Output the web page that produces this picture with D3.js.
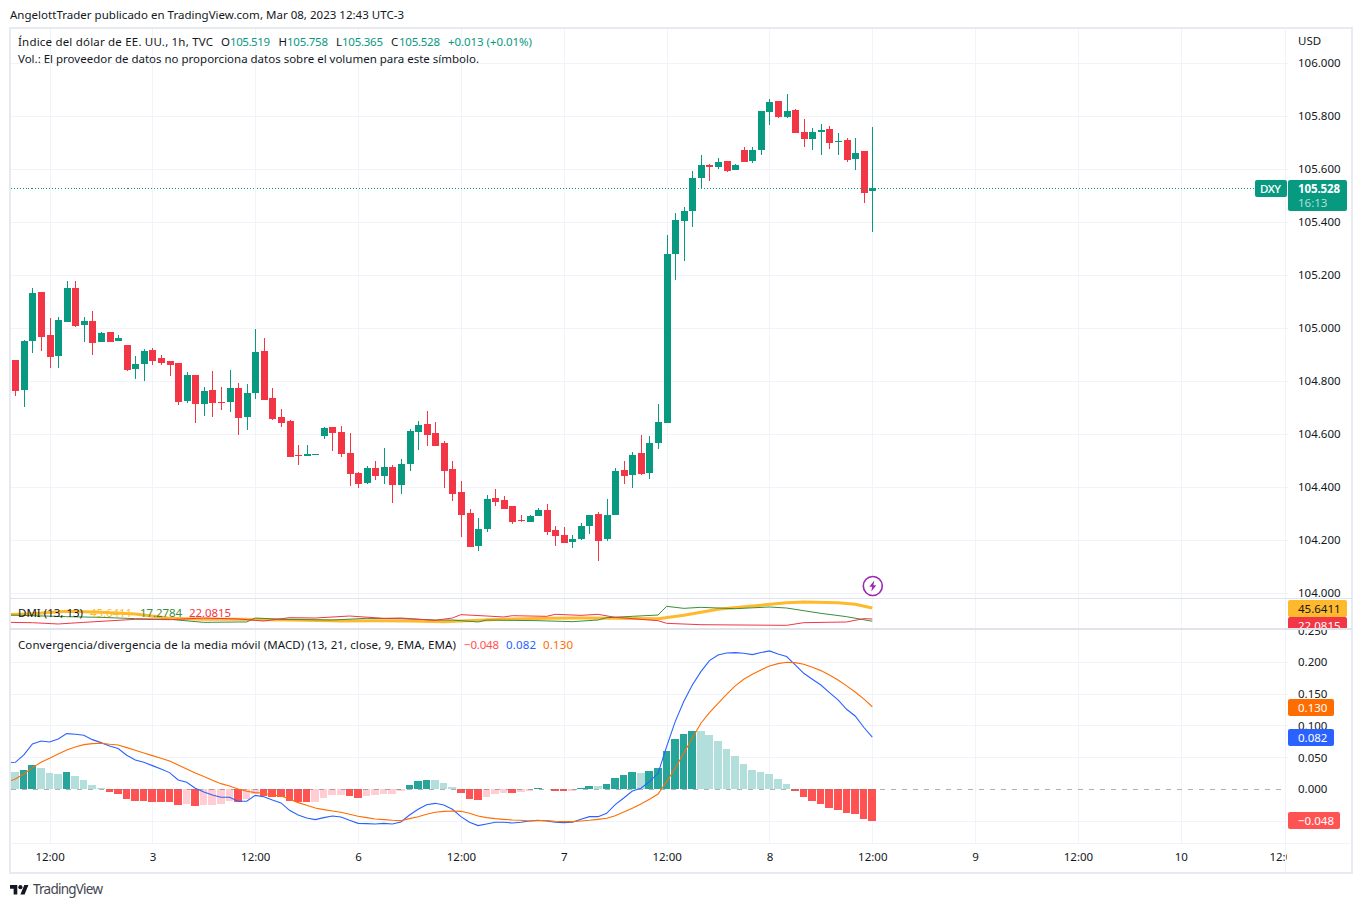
<!DOCTYPE html>
<html><head><meta charset="utf-8">
<style>
html,body{margin:0;padding:0;background:#fff}
svg{display:block}
text{font-family:"Noto Sans","Liberation Sans",sans-serif;font-size:11.5px;fill:#131722}
</style>
<script src="https://cdn.jsdelivr.net/npm/d3@7"></script>
</head><body><svg id="c" width="1362" height="907"></svg>
<script>
// Candle values: first entry is the candle clipped at the left edge (index -1)
const opens=[104.771,104.880,104.767,104.952,105.137,104.975,104.895,105.024,105.152,105.012,105.028,104.948,104.986,104.952,104.937,104.846,104.865,104.918,104.888,104.877,104.869,104.726,104.824,104.714,104.767,104.722,104.722,104.775,104.665,104.756,104.914,104.737,104.665,104.650,104.521,104.518,104.521,104.593,104.627,104.608,104.529,104.453,104.416,104.472,104.442,104.476,104.408,104.487,104.608,104.638,104.604,104.567,104.469,104.382,104.303,104.178,104.242,104.359,104.352,104.329,104.276,104.269,104.291,104.314,104.238,104.220,104.193,104.204,104.253,104.299,104.204,104.295,104.465,104.446,104.529,104.454,104.567,104.643,105.280,105.405,105.442,105.567,105.616,105.608,105.631,105.597,105.673,105.631,105.673,105.816,105.857,105.797,105.824,105.740,105.714,105.740,105.752,105.703,105.710,105.639,105.669,105.519];
const highs=[104.878,104.880,104.956,105.152,105.137,105.039,105.043,105.178,105.178,105.043,105.065,104.986,104.986,104.975,104.937,104.895,104.922,104.926,104.899,104.877,104.869,104.835,104.824,104.778,104.839,104.778,104.843,104.794,104.790,104.997,104.963,104.775,104.695,104.654,104.559,104.559,104.525,104.627,104.627,104.631,104.604,104.457,104.480,104.499,104.548,104.484,104.506,104.620,104.650,104.687,104.646,104.574,104.499,104.423,104.318,104.284,104.370,104.393,104.367,104.329,104.295,104.295,104.321,104.337,104.253,104.250,104.220,104.265,104.295,104.306,104.355,104.472,104.499,104.533,104.597,104.594,104.714,105.352,105.435,105.457,105.593,105.654,105.620,105.642,105.631,105.620,105.684,105.684,105.820,105.865,105.857,105.884,105.827,105.790,105.756,105.771,105.763,105.737,105.718,105.718,105.669,105.758];
const lows=[104.771,104.744,104.703,104.907,104.914,104.850,104.850,105.024,105.005,104.948,104.899,104.948,104.948,104.952,104.839,104.809,104.801,104.861,104.861,104.820,104.711,104.718,104.643,104.669,104.665,104.692,104.684,104.597,104.616,104.733,104.729,104.654,104.627,104.514,104.484,104.518,104.521,104.582,104.537,104.514,104.404,104.397,104.412,104.427,104.412,104.340,104.374,104.461,104.540,104.555,104.555,104.397,104.348,104.212,104.174,104.159,104.231,104.329,104.318,104.261,104.269,104.269,104.291,104.220,104.178,104.189,104.170,104.201,104.223,104.121,104.197,104.295,104.412,104.397,104.446,104.431,104.544,104.643,105.182,105.254,105.382,105.529,105.556,105.601,105.590,105.597,105.627,105.623,105.654,105.767,105.793,105.793,105.737,105.684,105.673,105.654,105.676,105.654,105.627,105.597,105.473,105.365];
const closes=[104.878,104.763,104.952,105.133,104.967,104.892,105.031,105.152,105.009,105.028,104.944,104.982,104.948,104.963,104.843,104.865,104.914,104.877,104.869,104.861,104.722,104.824,104.714,104.763,104.718,104.718,104.775,104.661,104.756,104.911,104.729,104.658,104.643,104.514,104.518,104.525,104.525,104.623,104.604,104.525,104.450,104.412,104.472,104.442,104.476,104.408,104.487,104.612,104.635,104.597,104.555,104.461,104.374,104.295,104.174,104.242,104.355,104.344,104.318,104.269,104.272,104.291,104.314,104.231,104.216,104.189,104.204,104.253,104.295,104.197,104.295,104.461,104.443,104.522,104.450,104.567,104.646,105.280,105.408,105.442,105.567,105.616,105.608,105.627,105.593,105.616,105.627,105.673,105.820,105.854,105.797,105.820,105.737,105.714,105.740,105.748,105.699,105.707,105.635,105.661,105.510,105.528];
// MACD pane
const histogram=[.0257,.0273,.0305,.0383,.0336,.0257,.0242,.0273,.021,.0147,.0068,.0021,-.0037,-.0074,-.0152,-.0184,-.0184,-.02,-.02,-.02,-.0247,-.0231,-.0263,-.0247,-.0247,-.0231,-.0184,-.02,-.0152,-.0068,-.0105,-.0121,-.0121,-.0184,-.02,-.02,-.02,-.0137,-.0089,-.0089,-.0105,-.0137,-.0105,-.0089,-.0074,-.0074,-.0026,.0068,.0131,.0147,.0147,.01,.0037,-.0058,-.0152,-.0168,-.0121,-.0074,-.0058,-.0058,-.0042,-.0026,.0021,.0005,-.0026,-.0026,-.0026,.0021,.0053,.0053,.0084,.0179,.0226,.0273,.0257,.0289,.0336,.0604,.0793,.0871,.0919,.0919,.0856,.0761,.0635,.0525,.0399,.0305,.0273,.0242,.0163,.0084,-.0026,-.0121,-.0184,-.0231,-.0294,-.0326,-.0373,-.0389,-.0467,-.0499];
const histStrong=[0,0,1,1,0,0,0,1,0,0,0,0,1,1,1,1,1,1,1,1,1,0,1,0,0,0,0,1,0,0,1,1,1,1,1,1,0,0,0,0,1,1,0,0,0,0,0,1,1,1,0,0,0,1,1,1,0,0,0,1,0,0,1,0,1,1,0,1,1,0,1,1,1,1,0,1,1,1,1,1,1,0,0,0,0,0,0,0,0,0,0,0,1,1,1,1,1,1,1,1,1,1];
const macdLine=[.042,.0425,.0541,.0714,.0761,.0746,.0793,.0877,.0866,.0851,.0782,.0735,.0683,.0641,.0536,.0462,.0425,.0373,.032,.0263,.0147,.011,.0016,-.0042,-.0089,-.0126,-.0126,-.0189,-.0189,-.0095,-.0116,-.0168,-.0215,-.0331,-.0404,-.0452,-.0478,-.0446,-.042,-.0436,-.0488,-.0536,-.0541,-.0546,-.0536,-.0546,-.0515,-.0404,-.0315,-.0242,-.0221,-.0247,-.0315,-.0431,-.052,-.0572,-.0546,-.052,-.052,-.053,-.052,-.0499,-.0488,-.0499,-.052,-.0525,-.052,-.0473,-.0431,-.0431,-.0378,-.0242,-.0137,-.0026,.0016,.0121,.0252,.0672,.1066,.1381,.1643,.1853,.2027,.2116,.2147,.2153,.2142,.2121,.2153,.2179,.2132,.209,.1958,.1827,.1733,.1643,.1523,.1407,.126,.1155,.0977,.082];
const signalLine=[.011,.0163,.0242,.0341,.0425,.0488,.0557,.062,.0667,.0704,.0719,.0725,.0709,.0698,.0656,.0614,.0572,.053,.0488,.0446,.0383,.032,.0257,.02,.0142,.0089,.0053,.0005,-.0032,-.0053,-.0063,-.0089,-.0105,-.0152,-.021,-.0252,-.0294,-.032,-.0341,-.0362,-.0394,-.0425,-.0446,-.0467,-.0478,-.0488,-.0494,-.0462,-.0431,-.0394,-.0362,-.0347,-.0341,-.0347,-.0378,-.042,-.0446,-.0462,-.0473,-.0483,-.0488,-.0499,-.0494,-.0494,-.0504,-.0509,-.0509,-.0499,-.0488,-.0473,-.0457,-.0415,-.0357,-.0299,-.0231,-.0158,-.0074,.0121,.0331,.0567,.0803,.104,.1208,.1355,.1496,.1628,.1733,.1811,.188,.1943,.1979,.2,.1995,.1969,.1922,.1869,.1801,.1722,.1628,.1533,.1423,.13];
// DMI pane: [candle index, value] vertices
const adxIdx=[-1,2,6,10,14,18,22,26,30,34,38,42,46,50,54,58,62,66,70,75,78,82,86,90,92,96,98,100];
const adxVal=[31.4,33.5,38.5,36.4,32.8,23.5,21.4,21.4,20.7,19.2,17.8,18.5,17.8,16.4,19.2,22.1,23.5,24.2,23.5,22.8,29.9,42.8,49.9,57,58.5,57,53.5,45.6411];
const plusIdx=[-1,2,6,10,14,18,22,26,27,28,31,37,41,45,49,51,54,55,61,65,68,69,72,75,76,78,80,84,88,90,94,97,100];
const plusVal=[30.7,29.2,27.1,25.6,22.8,21.4,14.9,15.7,15.7,24.2,21.4,19.9,23.5,22.8,19.9,19.9,15.7,19.9,18.5,16.4,19.9,24.9,27.8,30.6,49.2,44.9,47.1,44.2,47.8,45.6,34.2,27.1,17.2784];
const minusIdx=[-1,2,5,8,14,18,22,26,29,32,35,39,43,45,49,51,52,55,57,58,62,63,66,68,70,75,76,80,90,92,97,99,100];
const minusVal=[14.9,14.2,11.4,14.9,21.4,20.7,24.2,22.1,17.8,24.9,24.2,28.5,23.5,24.2,19.2,24.2,31.4,28.5,26.4,29.2,27.8,32.1,29.9,32.1,25.6,18.5,12.8,9.9,8.5,14.2,15.7,22.8,22.0815];
// Axes
const priceTicks=[106,105.8,105.6,105.4,105.2,105,104.8,104.6,104.4,104.2,104];
const macdTicks=[.25,.2,.15,.1,.05,0];
const macdGrid=[.2,.15,.1,.05,-.05];
const timeIdx=[4,16,28,40,52,64,76,88,100,112,124,136,148];
const timeLabels=["12:00","3","12:00","6","12:00","7","12:00","8","12:00","9","12:00","10","12:00"];
const lastPrice=105.528;

const svg=d3.select("#c");
const x=d3.scaleLinear().domain([0,148]).range([15.3,15.3+148*8.57]);
const yP=d3.scaleLinear().domain([104,106]).range([593.3,63.3]);
const yD=d3.scaleLinear().domain([22.0815,45.6411]).range([619,608]);
const yM=d3.scaleLinear().domain([0,.2]).range([789.3,662.3]);
const L=10.5,R=1285,T=28,PB=598,DB=629,B=843,XB=872;

const defs=svg.append("defs");
function clip(id,x0,y0,x1,y1){defs.append("clipPath").attr("id",id).append("rect").attr("x",x0).attr("y",y0).attr("width",x1-x0).attr("height",y1-y0);}
clip("cPrice",L,T,R,PB);clip("cDmi",L,PB+1,R,DB-1);clip("cMacd",L,DB+1,R,B);
clip("aPrice",R,T,1352,PB-1);clip("aDmi",R,PB,1352,DB-1);clip("aMacd",R,DB+1,1352,B);clip("aTime",L,B,1287,XB);

const GRID="#f0f3fa";
// Gridlines
const g=svg.append("g").attr("shape-rendering","crispEdges").attr("stroke",GRID).attr("stroke-width",1);
g.selectAll("line.v").data(timeIdx.filter(d=>x(d)<R-2)).join("line").attr("x1",d=>Math.round(x(d))+.5).attr("x2",d=>Math.round(x(d))+.5).attr("y1",T).attr("y2",B);
g.selectAll("line.p").data(priceTicks).join("line").attr("x1",L).attr("x2",1288).attr("y1",d=>Math.floor(yP(d))+.5).attr("y2",d=>Math.floor(yP(d))+.5);
g.selectAll("line.m").data(macdGrid).join("line").attr("x1",L).attr("x2",1288).attr("y1",d=>Math.floor(yM(d))+.5).attr("y2",d=>Math.floor(yM(d))+.5);

// Candles
const candles=opens.map((o,k)=>({i:k-1,o,h:highs[k],l:lows[k],c:closes[k]}));
const up="#089981",dn="#f23645";
const cg=svg.append("g").attr("clip-path","url(#cPrice)").attr("shape-rendering","crispEdges");
cg.selectAll("rect.w").data(candles).join("rect").attr("x",d=>Math.round(x(d.i))).attr("width",1)
  .attr("y",d=>Math.round(yP(d.h))).attr("height",d=>Math.max(1,Math.round(yP(d.l))-Math.round(yP(d.h))))
  .attr("fill",d=>d.c>=d.o?up:dn);
cg.selectAll("rect.b").data(candles).join("rect").attr("x",d=>Math.round(x(d.i))-3).attr("width",7)
  .attr("y",d=>Math.round(yP(Math.max(d.o,d.c)))).attr("height",d=>Math.max(1,Math.round(yP(Math.min(d.o,d.c)))-Math.round(yP(Math.max(d.o,d.c)))))
  .attr("fill",d=>d.c>=d.o?up:dn);
// Last price dotted line
svg.append("line").attr("x1",L).attr("x2",1255).attr("y1",Math.floor(yP(lastPrice))+.5).attr("y2",Math.floor(yP(lastPrice))+.5)
  .attr("stroke",up).attr("stroke-dasharray","1 2").attr("shape-rendering","crispEdges");

// Event icon
const ev=svg.append("g").attr("transform",`translate(${x(100)+.5},586)`);
ev.append("circle").attr("r",9.5).attr("fill","#fff").attr("stroke","#9c27b0").attr("stroke-width",1.6);
ev.append("path").attr("d","M1.5,-5.5 L-3.5,0.8 L-0.6,0.8 L-1.5,5.5 L3.5,-0.8 L0.6,-0.8 Z").attr("fill","#9c27b0");

// DMI
const dg=svg.append("g").attr("clip-path","url(#cDmi)").attr("fill","none");
function dmi(idx,val,col,w){dg.append("path").attr("d",d3.line().x(d=>x(d[0])).y(d=>yD(d[1]))(idx.map((d,k)=>[d,val[k]]))).attr("stroke",col).attr("stroke-width",w).attr("stroke-linejoin","round");}
dmi(adxIdx,adxVal,"#ffb92c",3);
dmi(plusIdx,plusVal,"#388e3c",1);
dmi(minusIdx,minusVal,"#f23645",1);

// MACD
const mg=svg.append("g").attr("clip-path","url(#cMacd)");
const hcol=(v,s)=>v>=0?(s?"#26a69a":"#b2dfdb"):(s?"#ff5252":"#ffcdd2");
mg.selectAll("rect").data(histogram.map((v,k)=>({i:k-1,v,s:histStrong[k]}))).join("rect")
  .attr("shape-rendering","crispEdges")
  .attr("x",d=>Math.round(x(d.i)-4)).attr("width",d=>Math.round(x(d.i)+3.6)-Math.round(x(d.i)-4))
  .attr("y",d=>Math.min(yM(d.v),yM(0))).attr("height",d=>Math.abs(yM(d.v)-yM(0)))
  .attr("fill",d=>hcol(d.v,d.s));
mg.append("line").attr("x1",L).attr("x2",1288).attr("y1",Math.floor(yM(0))+.5).attr("y2",Math.floor(yM(0))+.5)
  .attr("stroke","#787b86").attr("stroke-opacity",.6).attr("stroke-dasharray","5 6").attr("shape-rendering","crispEdges");
const ml=d3.line().x((d,k)=>x(k-1)).y(d=>yM(d));
mg.append("path").attr("d",ml(macdLine)).attr("fill","none").attr("stroke","#2962ff").attr("stroke-width",1.1);
mg.append("path").attr("d",ml(signalLine)).attr("fill","none").attr("stroke","#ff6d00").attr("stroke-width",1.1);

// Axes
const tidy=(s)=>{s.select(".domain").remove();s.selectAll(".tick line").remove();s.selectAll("text").attr("fill","#131722").style("font-family",null).style("font-size",null);};
svg.append("g").attr("clip-path","url(#aPrice)").append("g").attr("transform","translate(1290,0)")
  .call(d3.axisRight(yP).tickValues(priceTicks).tickFormat(d3.format(".3f")).tickSize(0).tickPadding(8)).call(tidy).attr("font-family",null).attr("font-size",null);
svg.append("g").attr("clip-path","url(#aMacd)").append("g").attr("transform","translate(1290,0)")
  .call(d3.axisRight(yM).tickValues(macdTicks).tickFormat(d3.format(".3f")).tickSize(0).tickPadding(8)).call(tidy).attr("font-family",null).attr("font-size",null);
svg.append("g").attr("clip-path","url(#aTime)").append("g").attr("transform","translate(0,853)")
  .call(d3.axisBottom(x).tickValues(timeIdx).tickFormat((d,k)=>timeLabels[k]).tickSize(0).tickPadding(0)).call(tidy).attr("font-family",null).attr("font-size",null);

// Frame and separators
const fr=svg.append("g").attr("shape-rendering","crispEdges").attr("fill","none");
fr.append("rect").attr("x",10).attr("y",27.5).attr("width",1342).attr("height",845).attr("stroke","#e8eaf2").attr("stroke-width",2);
fr.append("line").attr("x1",1285.5).attr("x2",1285.5).attr("y1",T).attr("y2",XB).attr("stroke",GRID);
fr.append("line").attr("x1",10).attr("x2",1352).attr("y1",598.5).attr("y2",598.5).attr("stroke","#e0e3eb");
fr.append("line").attr("x1",10).attr("x2",1352).attr("y1",629).attr("y2",629).attr("stroke","#e0e3eb").attr("stroke-width",2);
fr.append("line").attr("x1",10).attr("x2",1352).attr("y1",843.5).attr("y2",843.5).attr("stroke",GRID);

// Price labels
function tag(parent,x0,y0,w,h,fill,txt,col,tx,weight,len){
  parent.append("rect").attr("x",x0).attr("y",y0).attr("width",w).attr("height",h).attr("rx",2).attr("fill",fill);
  if(txt){const e=parent.append("text").attr("x",tx).attr("y",y0+h/2+4).style("fill",col).style("font-weight",weight||400).text(txt);if(len)e.attr("textLength",len);}
}
const la=svg.append("g");
tag(la,1255,180,32,17,up,"DXY","#fff",1260,500,21);
tag(la,1288,180,59,31,up,null);
la.append("text").attr("x",1298).attr("y",193).style("fill","#fff").style("font-weight",700).attr("textLength",42).text(d3.format(".3f")(lastPrice));
la.append("text").attr("x",1298).attr("y",207).style("fill","#b2dfdb").text("16:13");
tag(la,1288,699,46,17,"#ff6d00","0.130","#fff",1298);
tag(la,1288,729,46,17,"#2962ff","0.082","#fff",1298);
tag(la,1288,812,52,17,"#ff5252","\u22120.048","#fff",1298);
const ld=svg.append("g").attr("clip-path","url(#aDmi)");
tag(ld,1288,600,59,17,"#ffb92c","45.6411","#131722",1298);
tag(ld,1288,617,59,17,dn,"22.0815","#fff",1298);
svg.append("text").attr("x",1298).attr("y",45).text("USD");

// Legends
const t=(x0,y0,s,col,len)=>{const e=svg.append("text").attr("x",x0).attr("y",y0).text(s);if(col)e.style("fill",col);if(len)e.attr("textLength",len).attr("lengthAdjust","spacing");return e;};
t(10,19,"AngelottTrader publicado en TradingView.com, Mar 08, 2023 12:43 UTC-3",null,394);
t(18,46,"Índice del dólar de EE. UU., 1h, TVC",null,195);
t(221,46,"O");t(230,46,"105.519",up,40);
t(278.6,46,"H");t(287,46,"105.758",up,41);
t(336,46,"L");t(342,46,"105.365",up,41);
t(391,46,"C");t(399,46,"105.528",up,41);
t(448,46,"+0.013 (+0.01%)",up,84);
t(18,63,"Vol.: El proveedor de datos no proporciona datos sobre el volumen para este símbolo.",null,461);
t(18,617,"DMI (13, 13)",null,65);
t(90,617,"45.6411","#ffb92c",42);
t(140,617,"17.2784","#388e3c",42);
t(189,617,"22.0815",dn,42);
t(18,649,"Convergencia/divergencia de la media móvil (MACD) (13, 21, close, 9, EMA, EMA)",null,438);
t(464,649,"\u22120.048","#ff5252",35);
t(506,649,"0.082","#2962ff",30);
t(543,649,"0.130","#ff6d00",30);

// TradingView logo
const lg=svg.append("g").attr("transform","translate(10,883) scale(0.52)").attr("fill","#131722");
lg.append("path").attr("d","M14 22H7V11H0V4h14v18zM28 22h-8l7.5-18h8L28 22z");
lg.append("circle").attr("cx",20).attr("cy",8).attr("r",4);
svg.append("text").attr("x",33).attr("y",894).style("font-size","13.5px").style("fill","#434651").attr("textLength",70).text("TradingView");
</script></body></html>
